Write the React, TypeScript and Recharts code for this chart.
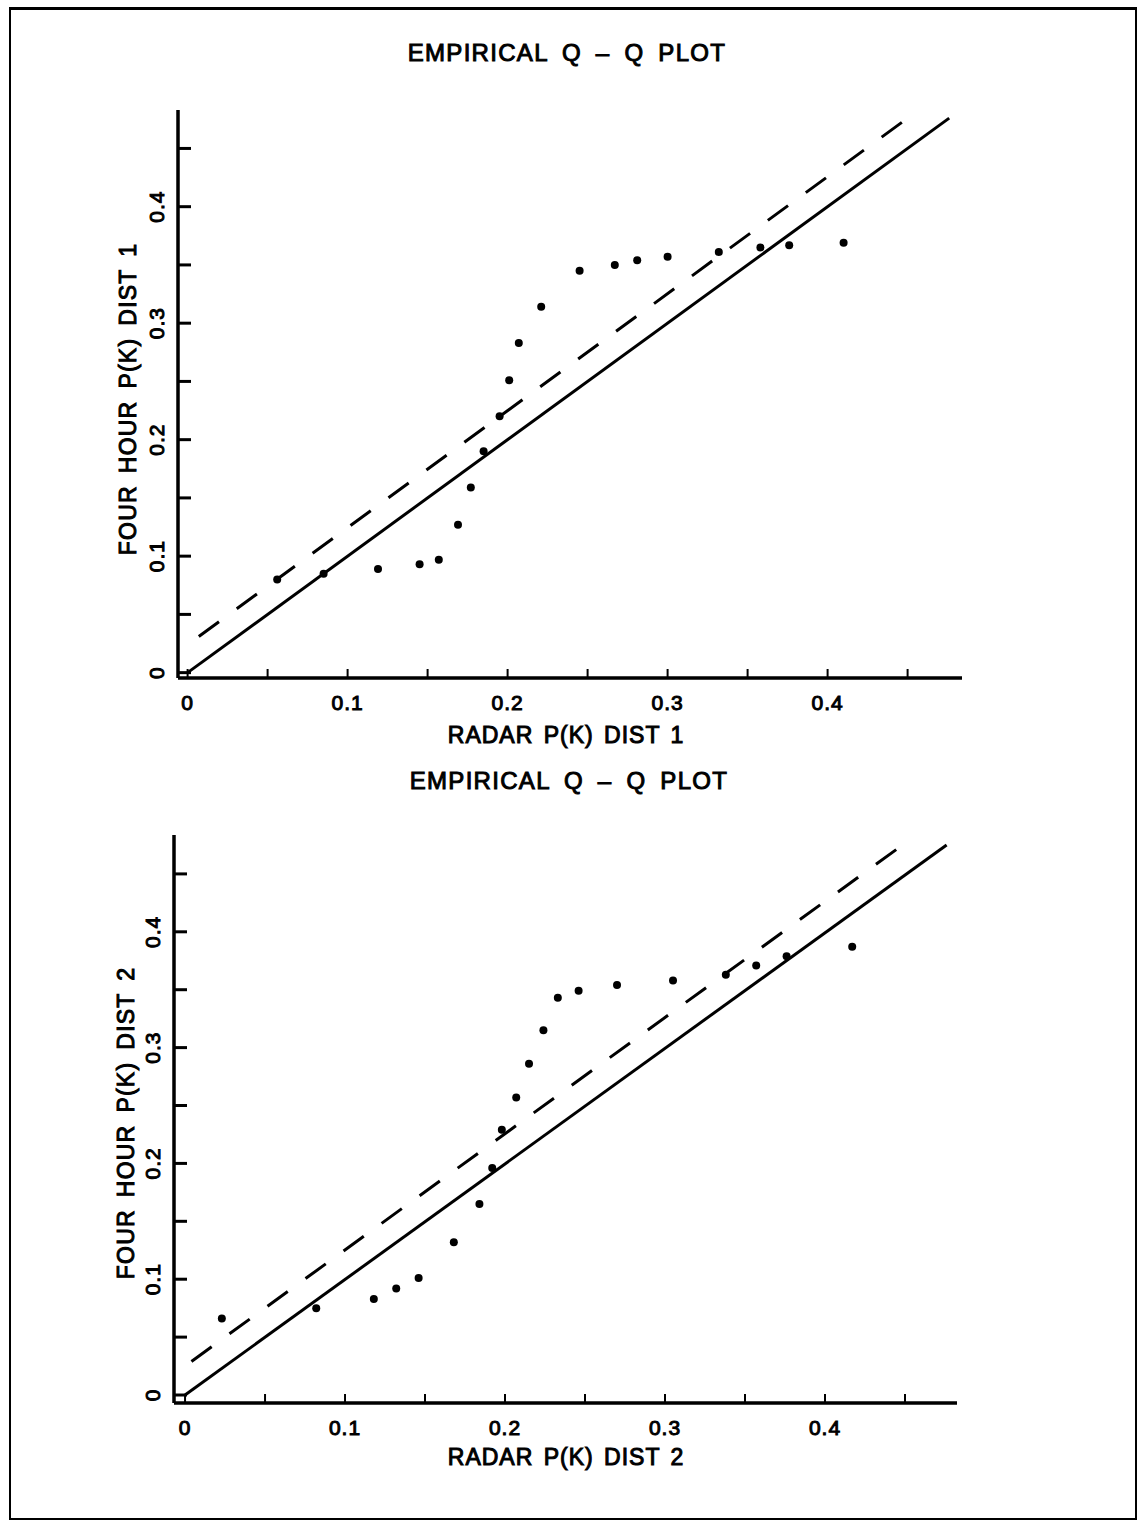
import React from 'react';
import { ScatterChart, Scatter, XAxis, YAxis } from 'recharts';

// ---------- data ----------
const radar1 = [0.056, 0.085, 0.119, 0.145, 0.157, 0.169, 0.177, 0.185, 0.195, 0.201, 0.207, 0.221, 0.245, 0.267, 0.281, 0.300, 0.332, 0.358, 0.376, 0.410];
const fourHour1 = [0.080, 0.085, 0.089, 0.093, 0.097, 0.127, 0.159, 0.190, 0.220, 0.251, 0.283, 0.314, 0.345, 0.350, 0.354, 0.357, 0.361, 0.365, 0.367, 0.369];

const radar2 = [0.023, 0.082, 0.118, 0.132, 0.146, 0.168, 0.184, 0.192, 0.198, 0.207, 0.215, 0.224, 0.233, 0.246, 0.270, 0.305, 0.338, 0.357, 0.376, 0.417];
const fourHour2 = [0.066, 0.075, 0.083, 0.092, 0.101, 0.132, 0.165, 0.196, 0.229, 0.257, 0.286, 0.315, 0.343, 0.349, 0.354, 0.358, 0.363, 0.371, 0.379, 0.387];

// reference lines (end points in data units)
const solid1X = [0, 0.476];
const solid1Y = [0, 0.476];
const dashed1X = [0.007, 0.448];
const dashed1Y = [0.031, 0.474];

const solid2X = [0, 0.476];
const solid2Y = [0, 0.475];
const dashed2X = [0.004, 0.4535];
const dashed2Y = [0.029, 0.480];

const tickValues = [0, 0.05, 0.1, 0.15, 0.2, 0.25, 0.3, 0.35, 0.4, 0.45];
const labeledTicks = ['0', '0.1', '0.2', '0.3', '0.4'];

const plotTitles = ['EMPIRICAL Q \u2013 Q PLOT', 'EMPIRICAL Q \u2013 Q PLOT'];
const xTitles = ['RADAR P(K) DIST 1', 'RADAR P(K) DIST 2'];
const yTitles = ['FOUR HOUR P(K) DIST 1', 'FOUR HOUR P(K) DIST 2'];

const zip = (xs: number[], ys: number[]) => xs.map((x, i) => ({ x, y: ys[i] }));

const FONT = '"Liberation Sans", Arial, sans-serif';

const labelFor = (v: number) => {
  const s = String(Math.round(v * 100) / 100);
  return labeledTicks.includes(s) ? s : null;
};

const XTick = (props: any) => {
  const { x, y, payload } = props;
  const lab = labelFor(payload.value);
  return (
    <g>
      <line x1={x} x2={x} y1={y - 1} y2={y - 9} stroke="#000" strokeWidth={2} />
      {lab !== null && (
        <text x={x} y={y + 24} textAnchor="middle" dominantBaseline="central" fontFamily={FONT} fontSize={21} letterSpacing={1} fill="#000" stroke="#000" strokeWidth={1}>
          {lab}
        </text>
      )}
    </g>
  );
};

const YTick = (props: any) => {
  const { x, y, payload } = props;
  const lab = labelFor(payload.value);
  const lx = x - 21;
  return (
    <g>
      <line x1={x} x2={x + 13} y1={y} y2={y} stroke="#000" strokeWidth={3} />
      {lab !== null && (
        <text x={lx} y={y} transform={`rotate(-90, ${lx}, ${y})`} textAnchor="middle" dominantBaseline="central" fontFamily={FONT} fontSize={21} letterSpacing={1} fill="#000" stroke="#000" strokeWidth={1}>
          {lab}
        </text>
      )}
    </g>
  );
};

const Dot = (props: any) => <circle cx={props.cx} cy={props.cy} r={4} fill="#000" />;
const NoShape = () => <g />;

type ChartProps = {
  top: number;
  height: number;
  margin: { top: number; right: number; bottom: number; left: number };
  xDomain: [number, number];
  yDomain: [number, number];
  points: { x: number; y: number }[];
  solid: { x: number; y: number }[];
  dashed: { x: number; y: number }[];
};

function QQChart({ top, height, margin, xDomain, yDomain, points, solid, dashed }: ChartProps) {
  return (
    <div style={{ position: 'absolute', left: 0, top, width: 1140, height }}>
      <ScatterChart width={1140} height={height} margin={margin}>
        <XAxis
          type="number"
          dataKey="x"
          domain={xDomain}
          allowDataOverflow
          ticks={tickValues}
          interval={0}
          tickSize={0}
          tickMargin={0}
          tickLine={false}
          tick={(p: any) => <XTick {...p} />}
          axisLine={{ stroke: '#000', strokeWidth: 3.5 }}
          height={30}
        />
        <YAxis
          type="number"
          dataKey="y"
          domain={yDomain}
          allowDataOverflow
          ticks={tickValues}
          interval={0}
          tickSize={0}
          tickMargin={0}
          tickLine={false}
          tick={(p: any) => <YTick {...p} />}
          axisLine={{ stroke: '#000', strokeWidth: 3.5 }}
          width={40}
        />
        <Scatter data={solid} line={{ stroke: '#000', strokeWidth: 3 }} shape={NoShape} isAnimationActive={false} />
        <Scatter data={dashed} line={{ stroke: '#000', strokeWidth: 3, strokeDasharray: '25 22' }} shape={NoShape} isAnimationActive={false} />
        <Scatter data={points} shape={Dot} isAnimationActive={false} />
      </ScatterChart>
    </div>
  );
}

const TextLabel = ({ text, cx, cy, rotate = 0, size, ls, ws }: { text: string; cx: number; cy: number; rotate?: number; size: number; ls: number; ws: number }) => (
  <div
    style={{
      position: 'absolute',
      left: cx,
      top: cy,
      transform: `translate(-50%, -50%) rotate(${rotate}deg)`,
      whiteSpace: 'nowrap',
      fontFamily: FONT,
      fontSize: size,
      letterSpacing: ls,
      wordSpacing: ws,
      lineHeight: 1,
      color: '#000',
      WebkitTextStroke: '1px #000',
    }}
  >
    {text}
  </div>
);

export default function App() {
  return (
    <div style={{ position: 'absolute', left: 0, top: 0, width: 1140, height: 1524, background: '#fff', overflow: 'hidden' }}>
      <div style={{ position: 'absolute', left: 9, top: 7, width: 1128, height: 1513, boxSizing: 'border-box', borderTop: '3px solid #000', borderLeft: '2px solid #000', borderRight: '2px solid #000', borderBottom: '2px solid #000' }} />

      <QQChart
        top={0}
        height={760}
        margin={{ top: 110, right: 178, bottom: 52, left: 138 }}
        xDomain={[-0.006, 0.484]}
        yDomain={[-0.0046, 0.483]}
        points={zip(radar1, fourHour1)}
        solid={zip(solid1X, solid1Y)}
        dashed={zip(dashed1X, dashed1Y)}
      />
      <QQChart
        top={760}
        height={764}
        margin={{ top: 75, right: 183, bottom: 91, left: 134 }}
        xDomain={[-0.0069, 0.4825]}
        yDomain={[-0.0069, 0.4836]}
        points={zip(radar2, fourHour2)}
        solid={zip(solid2X, solid2Y)}
        dashed={zip(dashed2X, dashed2Y)}
      />

      <TextLabel text={plotTitles[0]} cx={567} cy={53} size={24} ls={1.3} ws={6} />
      <TextLabel text={xTitles[0]} cx={566} cy={735} size={23} ls={1} ws={3} />
      <TextLabel text={yTitles[0]} cx={128} cy={399} rotate={-90} size={23} ls={1.2} ws={4.5} />

      <TextLabel text={plotTitles[1]} cx={569} cy={781} size={24} ls={1.3} ws={6} />
      <TextLabel text={xTitles[1]} cx={566} cy={1457} size={23} ls={1} ws={3} />
      <TextLabel text={yTitles[1]} cx={126} cy={1123} rotate={-90} size={23} ls={1.2} ws={4.5} />
    </div>
  );
}
